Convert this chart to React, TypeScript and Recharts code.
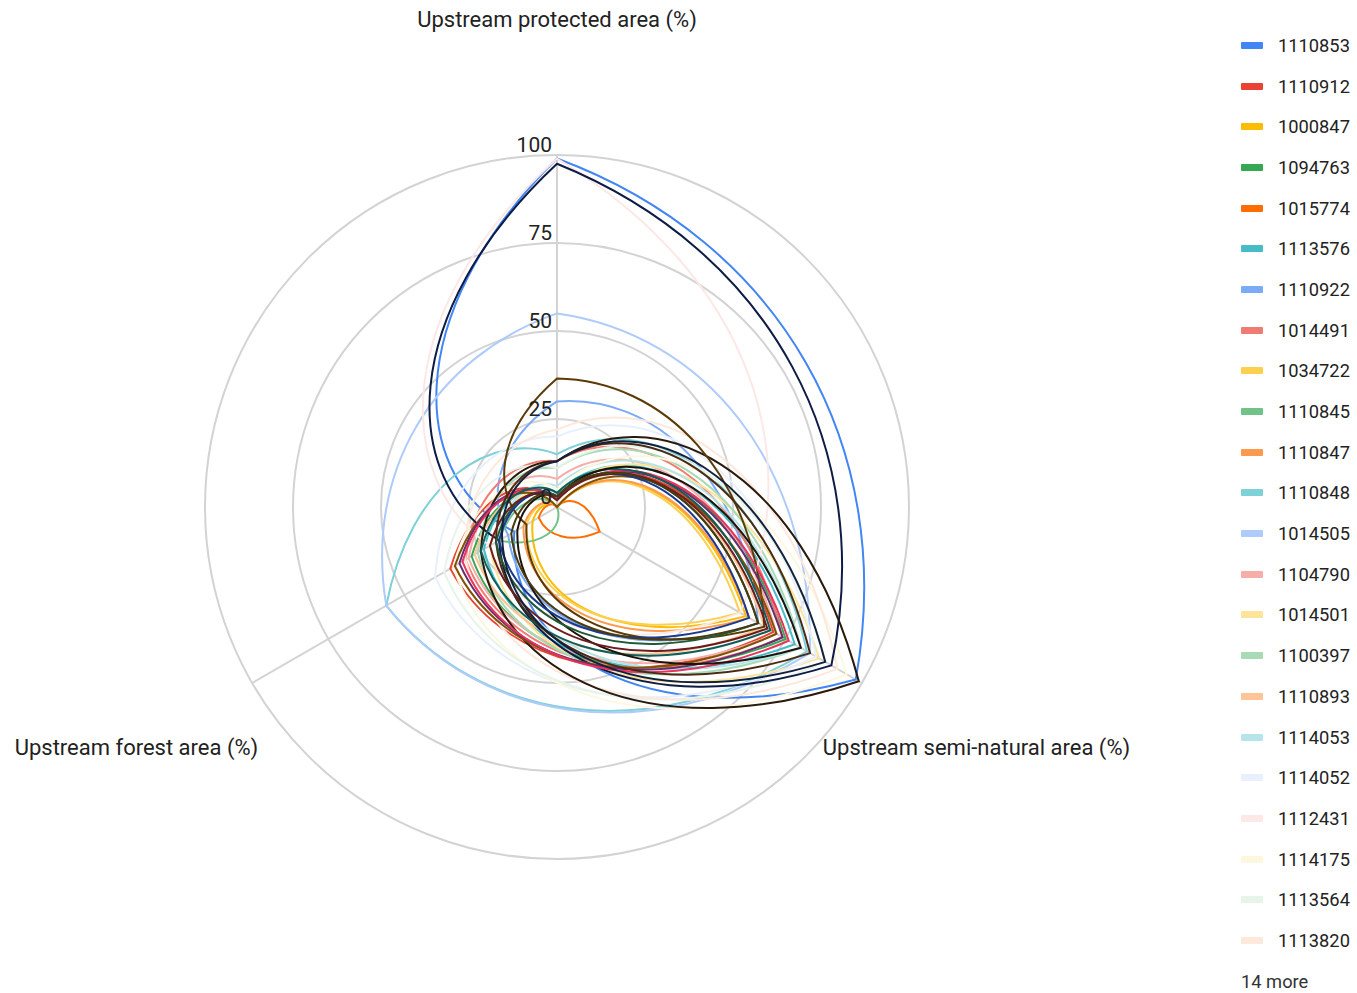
import React from "react";
import { RadarChart, Radar, PolarGrid, PolarAngleAxis, PolarRadiusAxis, Legend } from "recharts";

const AXES = [
  "Upstream protected area (%)",
  "Upstream semi-natural area (%)",
  "Upstream forest area (%)",
];

const RADIUS_TICKS = [0, 25, 50, 75, 100];

// first 23 appear in the legend, the rest sit behind "14 more"
const seriesIds = [
  "1110853", "1110912", "1000847", "1094763", "1015774", "1113576", "1110922", "1014491",
  "1034722", "1110845", "1110847", "1110848", "1014505", "1104790", "1014501", "1100397",
  "1110893", "1114053", "1114052", "1112431", "1114175", "1113564", "1113820",
  "1110902", "1110850", "1014498", "1110911", "1110918", "1104781", "1113573", "1110855",
  "1114049", "1094760", "1000851", "1015770", "1034719", "1112428",
];

const protectedArea = [
  99, 2, 0, 2, 0, 4, 30, 13, 0, 0, 0, 15, 55, 8, 3, 11, 2, 6, 20, 99, 5, 11, 22,
  97.5, 13, 36.5, 0, 2, 2, 4, 3, 13, 3, 3, 2, 3, 13,
];
const semiNaturalArea = [
  98, 71, 62, 75, 14, 78, 66, 74, 60, 0, 63, 82, 83, 72, 86, 80, 68, 80, 85, 60, 95, 88, 92,
  90, 99, 68, 72, 74, 76, 70, 80, 83, 66, 63, 69, 66, 88,
];
const forestArea = [
  14, 35, 8, 28, 6, 24, 16, 30, 10, 19, 11, 56, 56, 29, 22, 26, 27, 20, 40, 22, 34, 37, 30,
  19, 25, 10, 33.5, 32, 31, 25, 13, 20, 20, 19, 22, 15, 18,
];

const seriesColors = [
  "#4285f4", "#ea4335", "#fbbc04", "#34a853", "#ff6d01", "#46bdc6", "#7baaf7", "#f07b72",
  "#fcd04f", "#71c287", "#ff994d", "#7ed1d7", "#aecbfa", "#f6aea9", "#fde49b", "#a8dab5",
  "#ffc599", "#b5e5e8", "#e8f0fe", "#fce8e6", "#fef7e0", "#e6f4ea", "#fde8dc",
  "#0d1b45", "#2a1a0c", "#5c3a06", "#7f5200", "#6a2c70", "#e8335f", "#0f5e57", "#1c130c",
  "#4b2a14", "#1f5a34", "#1a3a8f", "#6b1d1d", "#4a3a10", "#14213d",
];

const LEGEND_SHOWN = 23;

const columns = [protectedArea, semiNaturalArea, forestArea];
const data = AXES.map((axis, i) => {
  const row: any = { axis };
  seriesIds.forEach((id, j) => {
    row[id] = columns[i][j];
  });
  return row;
});

const RAD = Math.PI / 180;
const polar = (cx: number, cy: number, r: number, a: number) => ({
  x: cx + r * Math.cos(-a * RAD),
  y: cy + r * Math.sin(-a * RAD),
});

// curved edges: each side bends like a spiral between the two vertices
function CurvedShape(props: any) {
  const { points, color } = props;
  if (!points || !points.length) return null;
  const n = points.length;
  let d = `M${points[0].x},${points[0].y}`;
  for (let i = 0; i < n; i++) {
    const p = points[i];
    const q = points[(i + 1) % n];
    let a1 = p.angle;
    let a2 = q.angle;
    while (a2 >= a1) a2 -= 360;
    const r1 = p.radius;
    const r2 = q.radius;
    const c1 = polar(p.cx, p.cy, r1 + (r2 - r1) / 3, a1 + (a2 - a1) / 3);
    const c2 = polar(p.cx, p.cy, r1 + (2 * (r2 - r1)) / 3, a1 + (2 * (a2 - a1)) / 3);
    d += ` C${c1.x},${c1.y} ${c2.x},${c2.y} ${q.x},${q.y}`;
  }
  d += " Z";
  return <path d={d} fill="none" stroke={color} strokeWidth={2} strokeLinejoin="miter" />;
}

const AngleTick = (props: any) => {
  const { x, y, payload, textAnchor } = props;
  let dx = 0;
  let dy = -120;
  if (textAnchor === "start") {
    dx = -46;
    dy = 68;
  } else if (textAnchor === "end") {
    dx = 13;
    dy = 68;
  }
  return (
    <text x={x + dx} y={y + dy} textAnchor={textAnchor} fontSize={22} fill="#222">
      {payload.value}
    </text>
  );
};

const RadiusTick = (props: any) => {
  const { x, y, payload } = props;
  return (
    <text x={x - 5} y={y - 3} textAnchor="end" fontSize={21} fill="#222">
      {payload.value}
    </text>
  );
};

const LegendBox = () => (
  <div style={{ fontFamily: "Roboto, sans-serif" }}>
    {seriesIds.slice(0, LEGEND_SHOWN).map((id, i) => (
      <div key={id} style={{ display: "flex", alignItems: "center", height: 40.7 }}>
        <span
          style={{
            width: 22,
            height: 7,
            borderRadius: 1,
            background: seriesColors[i],
            marginRight: 15,
          }}
        />
        <span style={{ fontSize: 18.3, color: "#222" }}>{id}</span>
      </div>
    ))}
    <div style={{ fontSize: 18.3, color: "#333", height: 40.7, display: "flex", alignItems: "center" }}>
      {seriesIds.length - LEGEND_SHOWN} more
    </div>
  </div>
);

export default function App() {
  return (
    <div style={{ position: "absolute", left: 0, top: 0, width: 1357, height: 993, background: "#fff", fontFamily: "Roboto, sans-serif" }}>
      <RadarChart
        width={1357}
        height={993}
        data={data}
        cx={557}
        cy={507}
        outerRadius={352}
        margin={{ top: 0, right: 0, bottom: 0, left: 0 }}
      >
        <PolarGrid gridType="circle" stroke="#d3d3d3" strokeWidth={2} />
        <PolarAngleAxis dataKey="axis" tick={AngleTick} tickLine={false} axisLine={false} />
        <PolarRadiusAxis
          angle={90}
          domain={[0, 100]}
          ticks={RADIUS_TICKS}
          axisLine={false}
          tickLine={false}
          tick={RadiusTick}
        />
        {seriesIds.map((id, i) => (
          <Radar
            key={id}
            name={id}
            dataKey={id}
            stroke={seriesColors[i]}
            fill="none"
            isAnimationActive={false}
            shape={(p: any) => <CurvedShape {...p} color={seriesColors[i]} />}
          />
        ))}
        <Legend
          content={() => <LegendBox />}
          wrapperStyle={{ position: "absolute", left: 1241, top: 25, width: 116 }}
        />
      </RadarChart>
    </div>
  );
}
